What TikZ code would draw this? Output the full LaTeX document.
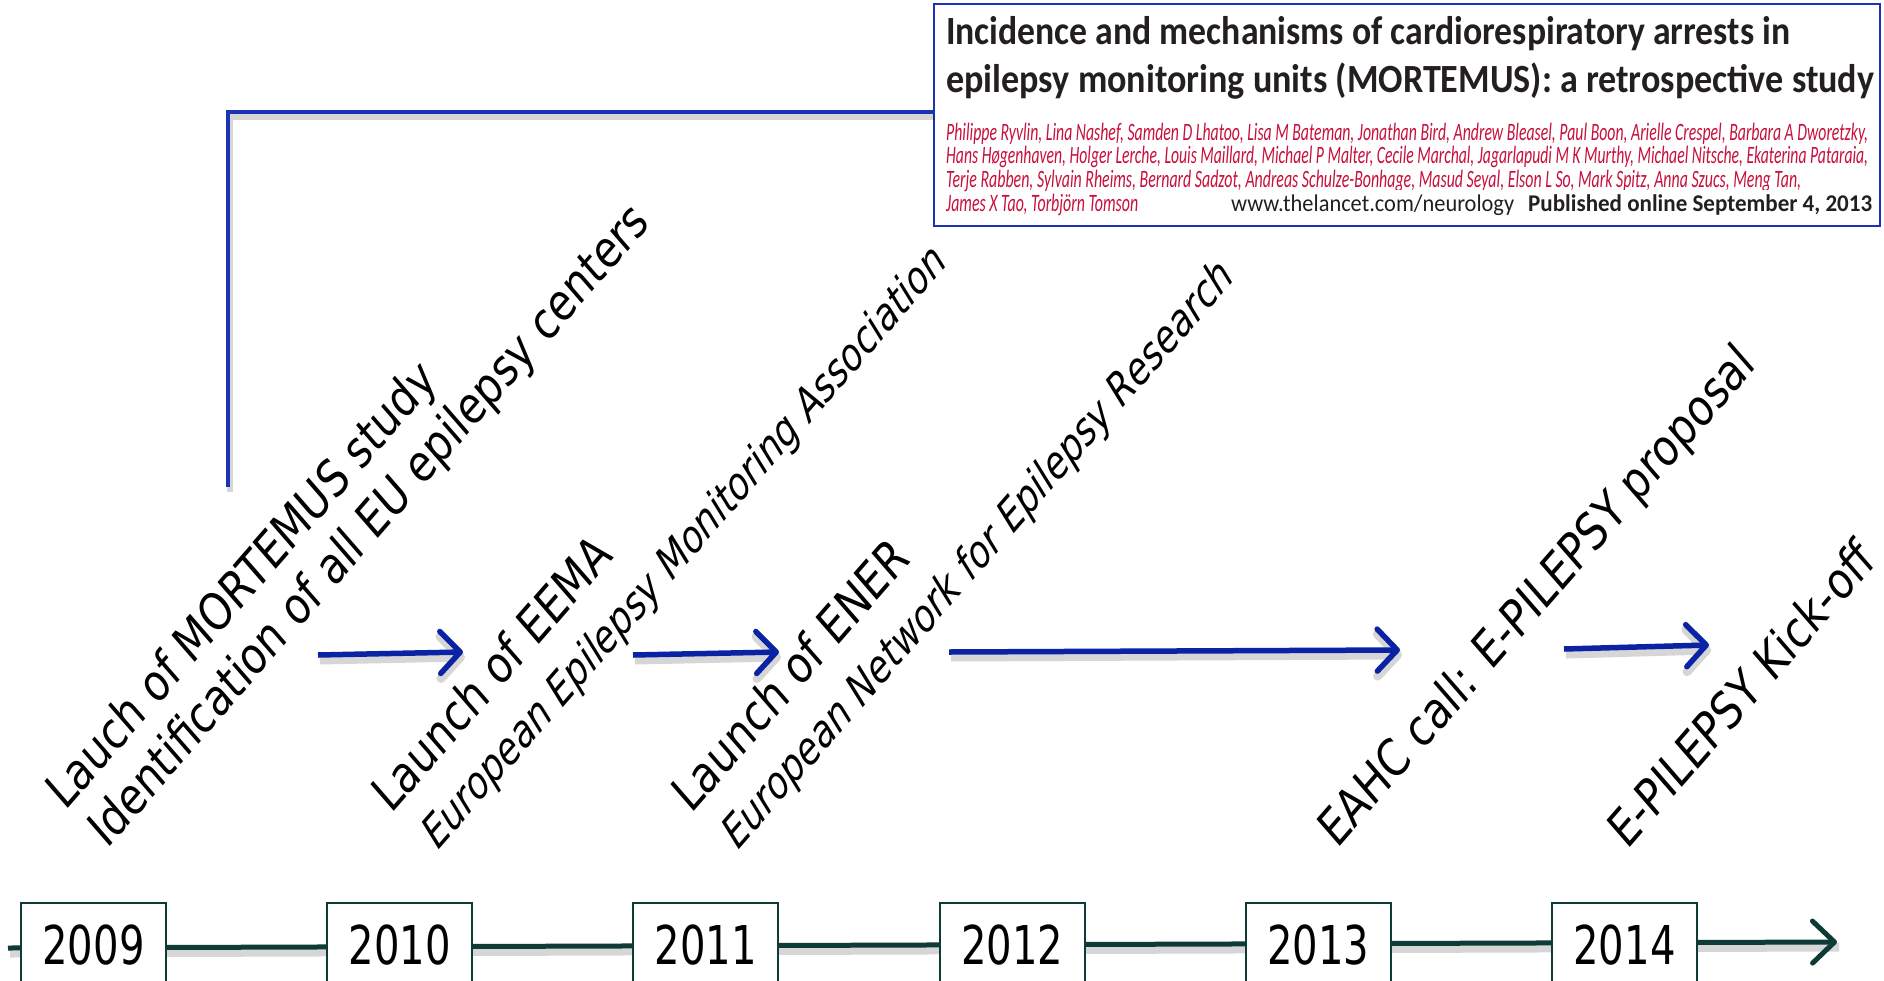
\documentclass[tikz,border=0pt]{standalone}
\usepackage{fontspec}
\usepackage{graphicx}
\usetikzlibrary{arrows.meta}
\newfontfamily\tahfont[FakeStretch=0.87]{DejaVu Sans}
\newfontfamily\yearfont[FakeStretch=0.75]{DejaVu Sans}
\newfontfamily\lancetfont{Carlito}
\definecolor{tlteal}{HTML}{0E3B36}
\definecolor{evblue}{HTML}{0A23A5}
\definecolor{boxblue}{HTML}{1E32B4}
\definecolor{authred}{HTML}{C8103C}
\definecolor{lancetgray}{HTML}{231F20}
\newcommand{\evfont}{\tahfont\fontsize{52}{62}\selectfont}
\newcommand{\evsubfont}{\tahfont\itshape\fontsize{45.5}{55}\selectfont}
\newcommand{\fitw}[2]{\resizebox{#1}{\height}{#2}}
\begin{document}
\begin{tikzpicture}[x=1pt,y=-1pt,
  evtext/.style={anchor=base west, inner sep=0pt, font=\evfont, xscale=0.87, rotate=45},
  evsub/.style={evtext, font=\evsubfont},
  yearbox/.style={draw=tlteal, line width=2pt, fill=white, inner sep=0pt,
    minimum width=145pt, minimum height=84pt, text height=39pt, text depth=0pt,
    font=\yearfont\fontsize{53.5}{60}\selectfont},
  tline/.style={draw=tlteal, line width=5pt, -{Straight Barb[length=22pt,width=42pt,round]}},
  evarrow/.style={draw=evblue, line width=5.5pt, -{Straight Barb[length=20pt,width=42pt,round]}},
  softshadow/.style={draw=black, opacity=0.16, line width=9pt, transform canvas={xshift=2pt,yshift=-5pt}},
  bracket/.style={draw=boxblue, line width=4pt},
  paperbox/.style={draw=boxblue, line width=2.5pt, inner sep=0pt, minimum width=946pt, minimum height=222pt},
  titletext/.style={anchor=base west, inner sep=0pt, text=lancetgray, font=\lancetfont\bfseries\fontsize{40}{44}\selectfont},
  authtext/.style={anchor=base west, inner sep=0pt, text=authred, font=\lancetfont\itshape\fontsize{25}{28}\selectfont},
  webtext/.style={anchor=base west, inner sep=0pt, text=lancetgray, font=\lancetfont\fontsize{24}{27}\selectfont},
  pubtext/.style={anchor=base west, inner sep=0pt, text=lancetgray, font=\lancetfont\bfseries\fontsize{24}{27}\selectfont}
]
\useasboundingbox (0,0) rectangle (1884,980);
\fill[white] (0,0) rectangle (1884,980);

% ---------- paper box ----------
\node[paperbox] (paper) at (1407,115) {};
\node[titletext] (title1) at (946,44.5) {\fitw{844pt}{Incidence and mechanisms of cardiorespiratory arrests in}};
\node[titletext] (title2) at (946,92.5) {\fitw{928pt}{epilepsy monitoring units (MORTEMUS): a retrospective study}};
\node[authtext] (auth1) at (946,140) {\fitw{922pt}{Philippe Ryvlin, Lina Nashef, Samden D Lhatoo, Lisa M Bateman, Jonathan Bird, Andrew Bleasel, Paul Boon, Arielle Crespel, Barbara A Dworetzky,}};
\node[authtext] (auth2) at (946,163.5) {\fitw{922pt}{Hans Høgenhaven, Holger Lerche, Louis Maillard, Michael P Malter, Cecile Marchal, Jagarlapudi M K Murthy, Michael Nitsche, Ekaterina Pataraia,}};
\node[authtext] (auth3) at (946,187.5) {\fitw{855pt}{Terje Rabben, Sylvain Rheims, Bernard Sadzot, Andreas Schulze-Bonhage, Masud Seyal, Elson L So, Mark Spitz, Anna Szucs, Meng Tan,}};
\fill[white] (1160,190) rectangle (1877,224);
\node[authtext] (auth4) at (946,211.5) {\fitw{192pt}{James X Tao, Torbjörn Tomson}};
\node[webtext] (web) at (1231,211.5) {\fitw{283pt}{www.thelancet.com/neurology}};
\node[pubtext] (pub) at (1528,211.5) {\fitw{344pt}{Published online September 4, 2013}};

% ---------- bracket ----------
\coordinate (brbot) at (228,487);
\draw[softshadow, line width=6pt] (brbot) |- ([yshift=3pt]paper.west);
\draw[bracket] (brbot) |- ([yshift=3pt]paper.west);

% ---------- timeline ----------
\coordinate (tlstart) at (8,948);
\coordinate (tlend) at (1837,942);
\draw[softshadow] (tlstart) -- (tlend);
\draw[tline] (tlstart) -- (tlend);

\node[yearbox] (y2009) at (93.5,944.5) {2009};
\node[yearbox] (y2010) at (399.7,944.5) {2010};
\node[yearbox] (y2011) at (705.9,944.5) {2011};
\node[yearbox] (y2012) at (1012.1,944.5) {2012};
\node[yearbox] (y2013) at (1318.3,944.5) {2013};
\node[yearbox] (y2014) at (1624.5,944.5) {2014};

% ---------- event arrows ----------
\coordinate (a1s) at (318,655); \coordinate (a1e) at (463,652);
\coordinate (a2s) at (633,655); \coordinate (a2e) at (779,652);
\coordinate (a3s) at (949,652); \coordinate (a3e) at (1400,650);
\coordinate (a4s) at (1564,649); \coordinate (a4e) at (1709,645);
\foreach \s/\e in {a1s/a1e, a2s/a2e, a3s/a3e, a4s/a4e}{
  \draw[softshadow, -{Straight Barb[length=20pt,width=42pt,round]}] (\s) -- (\e);
  \draw[evarrow] (\s) -- (\e);
}

% ---------- event texts ----------
\node[evtext] (e1a) at (65,812) {Lauch of MORTEMUS study};
\node[evtext] (e1b) at (107,850) {Identification of all EU epilepsy centers};
\node[evtext] (e2a) at (391,815) {Launch of EEMA};
\node[evsub] (e2b) at (438,851) {European Epilepsy Monitoring Association};
\node[evtext] (e3a) at (691,815) {Launch of ENER};
\node[evsub] (e3b) at (738,851) {European Network for Epilepsy Research};
\node[evtext] (e4) at (1337,850) {EAHC call: E-PILEPSY proposal};
\node[evtext] (e5) at (1627,851) {E-PILEPSY Kick-off};
\end{tikzpicture}
\end{document}
